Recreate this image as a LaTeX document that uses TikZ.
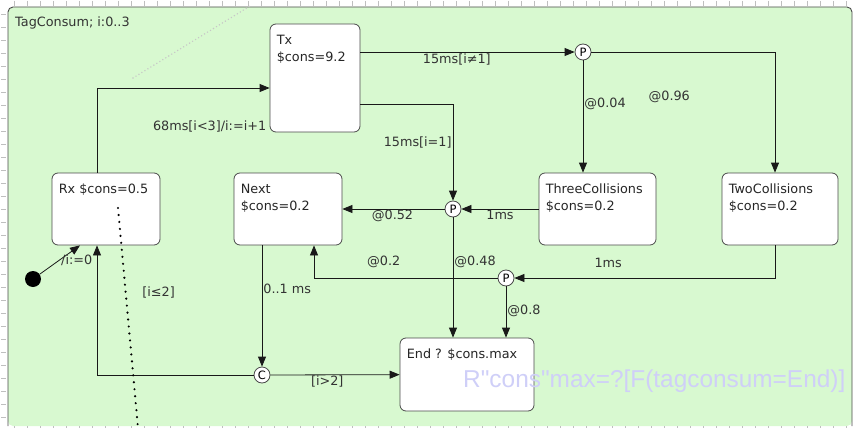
\documentclass[tikz,border=0pt]{standalone}
\usepackage{fontspec}
\setmainfont{DejaVu Sans}
\newfontfamily\qfont{Liberation Sans}
\usetikzlibrary{arrows.meta,positioning,calc}
\definecolor{bggreen}{HTML}{D8F9D0}
\definecolor{frame}{HTML}{4A4A4A}
\definecolor{query}{HTML}{CFCFF8}
\newcommand{\fs}{\fontsize{12.8}{17}\selectfont}

\begin{document}
\begin{tikzpicture}[x=1pt, y=-1pt,
  st/.style={rectangle, draw=frame, line width=0.8pt, fill=white, rounded corners=6pt, inner sep=0pt},
  txt/.style={anchor=north west, align=left, inner sep=0pt, font=\fs, text=black!85, xshift=7pt, yshift=-11pt},
  br/.style={circle, draw=frame, line width=0.8pt, fill=white, minimum size=16pt, inner sep=0pt, font=\fontsize{11.5}{11.5}\selectfont},
  tr/.style={-{Triangle[length=10pt,width=8pt]}, line width=0.8pt, black!90},
  lab/.style={font=\fs, inner sep=1pt, text=black!80},
  tick/.style={black!25, line width=0.6pt}
]
  \useasboundingbox (0,0) rectangle (853,428);
  % sheet with rulers
  \fill[bggreen, rounded corners=5pt] (8,7) rectangle (852,426);
  \draw[frame, line width=0.9pt, rounded corners=5pt] (8,426) -- (8,7) -- (852,7) -- (852,426);
  \foreach \i in {0,...,64} \draw[tick] (14+13*\i,1) -- ++(0,5);
  \foreach \i in {0,...,31} \draw[tick] (1,14+13*\i) -- ++(5,0);
  \foreach \i in {0,...,64} \draw[tick] (14+13*\i,426) -- ++(0,2);
  \node[lab, anchor=west] (title) at (14,23) {TagConsum; i:0..3};
  \draw[black!22, line width=1.6pt, line cap=round, dash pattern=on 0pt off 3.5pt] (133,78) -- (250,6);

  % locations
  \node[st, minimum width=90, minimum height=108, label={[txt]north west:{Tx\\\$cons=9.2}}] (tx) at (315,78) {};
  \node[st, minimum width=108, minimum height=72, label={[txt]north west:{Rx \$cons=0.5}}] (rx) at (106,209) {};
  \node[st, minimum width=108, minimum height=72, label={[txt]north west:{Next\\\$cons=0.2}}] (next) at (288,209) {};
  \node[st, minimum width=117, minimum height=72, label={[txt]north west:{ThreeCollisions\\\$cons=0.2}}] (three) at (597.5,209) {};
  \node[st, minimum width=116, minimum height=72, label={[txt]north west:{TwoCollisions\\\$cons=0.2}}] (two) at (780,209) {};
  \node[st, minimum width=134, minimum height=73, label={[txt]north west:{End ? \$cons.max}}] (fin) at (467,374.5) {};

  % branch points
  \node[br] (p1) at (583,52) {P};
  \node[br] (p2) at (453,209) {P};
  \node[br] (p3) at (506,278) {P};
  \node[br] (c) at (262,375) {C};
  \node[circle, fill=black, minimum size=16pt, inner sep=0pt] (init) at (33,279) {};

  % edges
  \draw[tr] (init) -- node[lab, pos=0.5, anchor=west] {/i:=0} ([xshift=-26pt]rx.south);
  \draw[tr] ([xshift=-9pt]rx.north) |- node[lab, pos=1, anchor=north east, yshift=-31pt, xshift=-2pt] {68ms[i<3]/i:=i+1} ([yshift=-10pt]tx.west);
  \draw[tr] ([yshift=26pt]tx.east) -- node[lab, pos=0.45, below] {15ms[i≠1]} (p1);
  \draw[tr] ([yshift=-26pt]tx.east) -| node[lab, pos=0.7, left] {15ms[i=1]} (p2);
  \draw[tr] (p1) -- node[lab, pos=0.39, right] {@0.04} (p1 |- three.north);
  \draw[tr] (p1) -| node[lab, pos=0.25, below=38pt, xshift=-14pt] {@0.96} ([xshift=-5pt]two.north);
  \draw[tr] (three.west) -- node[lab, below] {1ms} (p2);
  \draw[tr] (p2) -- node[lab, pos=0.51, below] {@0.52} (next);
  \draw[tr] (p2) -- node[lab, pos=0.37, right] {@0.48} (p2 |- fin.north);
  \draw[tr] ([xshift=-5pt]two.south) |- node[lab, pos=0.82, above=9pt] {1ms} (p3);
  \draw[tr] (p3) -| node[lab, pos=0.31, above=9pt] {@0.2} ([xshift=26pt]next.south);
  \draw[tr] (p3) -- node[lab, pos=0.48, right] {@0.8} (p3 |- fin.north);
  \draw[tr] ([xshift=-26pt]next.south) -- node[lab, pos=0.36, right] {0..1 ms} (c);
  \draw[tr] (c) -| node[lab, pos=0.82, right, xshift=44pt] {[i≤2]} ([xshift=-9pt]rx.south);
  \draw[tr] (c) -- node[lab, pos=0.44, below] {[i>2]} (fin);

  \draw[line width=2.4pt, line cap=round, dash pattern=on 0pt off 7pt] (118,208) -- (138,428);
  \node[anchor=base west, font=\qfont\fontsize{24.4}{26}\selectfont, text=query, inner sep=0pt] (pctl) at (463,387) {R"cons"max=?[F(tagconsum=End)]};
\end{tikzpicture}
\end{document}
